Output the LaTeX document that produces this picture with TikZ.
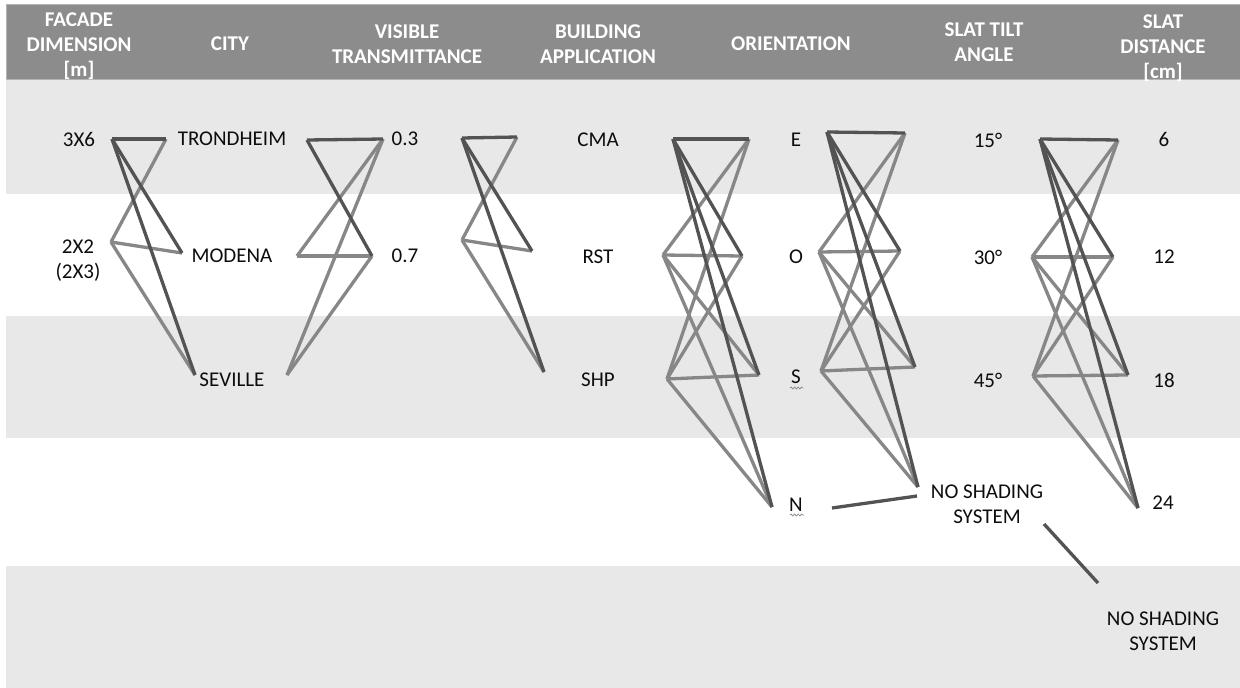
\documentclass[tikz,border=0pt]{standalone}
\usepackage{fontspec}
\setmainfont{Carlito}
\usetikzlibrary{decorations.pathmorphing}
\definecolor{hdr}{HTML}{8C8C8C}
\definecolor{hdrline}{HTML}{B4B4B4}
\definecolor{rowg}{HTML}{E8E8E8}
\definecolor{dk}{HTML}{535353}
\definecolor{lt}{HTML}{878787}
\definecolor{txt}{HTML}{0D0D0D}
\begin{document}
\begin{tikzpicture}[x=1pt,y=-1pt,
  lbl/.style={font=\fontsize{21}{25}\selectfont, text=txt, inner sep=0pt, align=center},
  hd/.style={font=\fontsize{21}{25}\selectfont\bfseries, text=white, inner sep=0pt, align=center},
  dkl/.style={draw=dk, line width=3.3pt},
  ltl/.style={draw=lt, line width=3.3pt},
  squig/.style={draw=lt, line width=0.7pt, decorate, decoration={snake, amplitude=1pt, segment length=3.5pt}}
]
\useasboundingbox (0,0) rectangle (1240,688);
\fill[white] (0,0) rectangle (1240,688);
% bands
\fill[hdr, draw=hdrline, line width=0.8pt] (6,4) rectangle (1241,79);
\fill[rowg] (6,80) rectangle (1240,194);
\fill[rowg] (6,316) rectangle (1240,438);
\fill[rowg] (6,566) rectangle (1240,688);

% headers
\node[hd] (h1) at (79,46) {FACADE\\DIMENSION\\{[m]}};
\node[hd] (h2) at (230,44) {CITY};
\node[hd] (h3) at (407,44.5) {VISIBLE\\TRANSMITTANCE};
\node[hd] (h4) at (598,44.5) {BUILDING\\APPLICATION};
\node[hd] (h5) at (791,44) {ORIENTATION};
\node[hd] (h6) at (984,42.5) {SLAT TILT\\ANGLE};
\node[hd] (h7) at (1163,48) {SLAT\\DISTANCE\\{[cm]}};

% labels
\node[lbl] (fd1) at (79,139) {3X6};
\node[lbl] (fd2) at (78,260.5) {2X2\\(2X3)};
\node[lbl] (ci1) at (232,139) {TRONDHEIM};
\node[lbl] (ci2) at (232,256) {MODENA};
\node[lbl] (ci3) at (232,380) {SEVILLE};
\node[lbl] (vt1) at (405,139) {0.3};
\node[lbl] (vt2) at (405,256) {0.7};
\node[lbl] (ba1) at (598,140) {CMA};
\node[lbl] (ba2) at (598,257) {RST};
\node[lbl] (ba3) at (598,380) {SHP};
\node[lbl] (or1) at (796,140) {E};
\node[lbl] (or2) at (796,257) {O};
\node[lbl] (or3) at (796,377) {S};
\node[lbl] (or4) at (796,505) {N};
\node[lbl] (st1) at (988,140) {15°};
\node[lbl] (st2) at (988,257) {30°};
\node[lbl] (st3) at (988,380) {45°};
\node[lbl] (st4) at (987,504.5) {NO SHADING\\SYSTEM};
\node[lbl] (sd1) at (1164,139) {6};
\node[lbl] (sd2) at (1164,257) {12};
\node[lbl] (sd3) at (1164,380) {18};
\node[lbl] (sd4) at (1163,503) {24};
\node[lbl] (sd5) at (1163,631) {NO SHADING\\SYSTEM};

% spell-check squiggles
\coordinate (q1a) at (790,388); \coordinate (q1b) at (803,388);
\coordinate (q2a) at (790,515); \coordinate (q2b) at (804,515);
\path[squig] (q1a) -- (q1b);
\path[squig] (q2a) -- (q2b);

% group 1: facade -> city
\coordinate (a1) at (112,139); \coordinate (a2) at (111,242);
\coordinate (b1) at (166,139); \coordinate (b2) at (182,253); \coordinate (b3) at (195,375);
\foreach \r in {b1,b2,b3} \draw[ltl] (a2) -- (\r);
\foreach \r in {b1,b2,b3} \draw[dkl] (a1) -- (\r);

% group 2: city -> VT
\coordinate (c1) at (307,140); \coordinate (c2) at (297,256); \coordinate (c3) at (287,375);
\coordinate (d1) at (383,139); \coordinate (d2) at (372,256);
\foreach \l in {c2,c3} \foreach \r in {d1,d2} \draw[ltl] (\l) -- (\r);
\foreach \r in {d1,d2} \draw[dkl] (c1) -- (\r);

% group 3: VT -> BA
\coordinate (e1) at (462,138); \coordinate (e2) at (462,240);
\coordinate (f1) at (517,137); \coordinate (f2) at (532,251); \coordinate (f3) at (544,372);
\foreach \r in {f1,f2,f3} \draw[ltl] (e2) -- (\r);
\foreach \r in {f1,f2,f3} \draw[dkl] (e1) -- (\r);

% group 4: BA -> orientation
\coordinate (g1) at (673,139); \coordinate (g2) at (663,255); \coordinate (g3) at (667,379);
\coordinate (k1) at (749,139); \coordinate (k2) at (742,256); \coordinate (k3) at (759,375); \coordinate (k4) at (772,507);
\foreach \l in {g2,g3} \foreach \r in {k1,k2,k3,k4} \draw[ltl] (\l) -- (\r);
\foreach \r in {k1,k2,k3,k4} \draw[dkl] (g1) -- (\r);

% group 5: orientation -> slat tilt
\coordinate (i1) at (827,132); \coordinate (i2) at (819,252); \coordinate (i3) at (821,371);
\coordinate (j1) at (905,133); \coordinate (j2) at (900,251); \coordinate (j3) at (915,367); \coordinate (j4) at (918,487);
\foreach \l in {i2,i3} \foreach \r in {j1,j2,j3,j4} \draw[ltl] (\l) -- (\r);
\foreach \r in {j1,j2,j3,j4} \draw[dkl] (i1) -- (\r);
\coordinate (n1) at (832,508); \coordinate (n2) at (917,496);
\draw[dkl] (n1) -- (n2);

% group 6: slat tilt -> slat distance
\coordinate (l1) at (1040,139); \coordinate (l2) at (1032,257); \coordinate (l3) at (1033,376);
\coordinate (m1) at (1118,140); \coordinate (m2) at (1113,257); \coordinate (m3) at (1128,375); \coordinate (m4) at (1138,508);
\foreach \l in {l2,l3} \foreach \r in {m1,m2,m3,m4} \draw[ltl] (\l) -- (\r);
\foreach \r in {m1,m2,m3,m4} \draw[dkl] (l1) -- (\r);
\coordinate (p1) at (1044,524); \coordinate (p2) at (1098,583);
\draw[dkl] (p1) -- (p2);
\end{tikzpicture}
\end{document}
